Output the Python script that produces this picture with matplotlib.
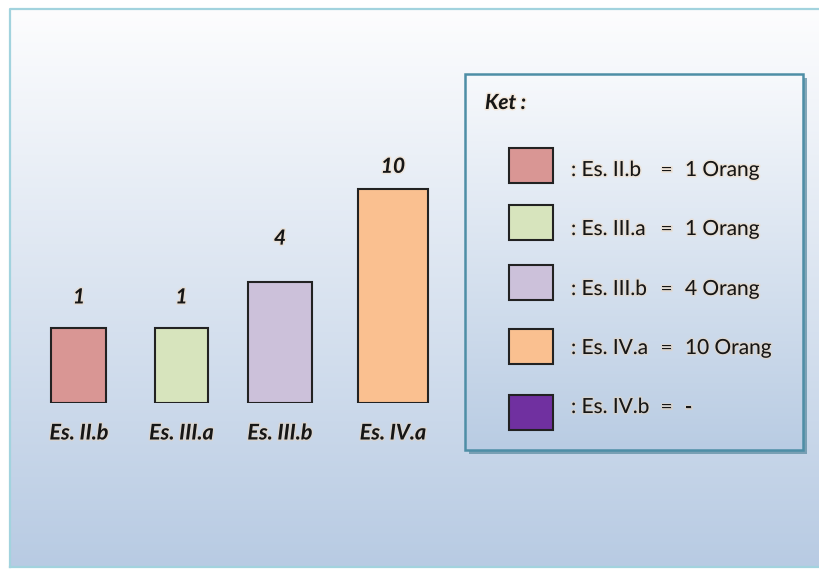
import numpy as np
import matplotlib
matplotlib.use("Agg")
import matplotlib.pyplot as plt
from matplotlib.patches import Rectangle
import matplotlib.patheffects as pe

# ---------------- data ----------------
categories = ["Es. II.b", "Es. III.a", "Es. III.b", "Es. IV.a"]
values = [1, 1, 4, 10]
legend_categories = ["Es. II.b", "Es. III.a", "Es. III.b", "Es. IV.a", "Es. IV.b"]
legend_counts = ["1 Orang", "1 Orang", "4 Orang", "10 Orang", "-"]
legend_title = "Ket :"

# ---------------- styles / layout ----------------
bar_colors = ["#d99694", "#d7e4bd", "#ccc1da", "#fac090"]
legend_colors = ["#d99694", "#d7e4bd", "#ccc1da", "#fac090", "#7030a0"]
bar_centers = [79, 181.5, 280, 393]      # pixel layout positions
bar_widths = [55, 53, 64, 70]
label_offsets = [22, 22, 31, 16]         # points above bar top
W, H = 820, 569
base_px = 403                             # bar bottom (pixel from top)
top_px = 9
px_per_unit = 15.44
base_val = -3.86

FONT = ["Lato", "DejaVu Sans"]
txt_col = "#161616"
glow = [pe.withStroke(linewidth=2.2, foreground="#f6d2a8", alpha=0.35)]

fig = plt.figure(figsize=(W / 100, H / 100), dpi=100)
fig.patch.set_facecolor("white")

# background / overlay axes in pixel coords
bg = fig.add_axes([0, 0, 1, 1])
bg.set_xlim(0, W)
bg.set_ylim(H, 0)
bg.axis("off")

def vgrad(ax, x0, x1, y0, y1, c_top, c_bot, z):
    t = np.linspace(0, 1, 256)[:, None]
    ct = np.array(matplotlib.colors.to_rgb(c_top))
    cb = np.array(matplotlib.colors.to_rgb(c_bot))
    img = (ct[None, None, :] * (1 - t[..., None]) + cb[None, None, :] * t[..., None])
    img = np.repeat(img, 2, axis=1)
    ax.imshow(img, extent=[x0, x1, y1, y0], aspect="auto", zorder=z,
              interpolation="bilinear")

# panel gradient
vgrad(bg, 10, W + 2, top_px, 567, "#fdfdfe", "#b8cbe3", 0)
bg.plot([10, 10, W + 2], [567, top_px, top_px], color="#a2d3de", lw=1.6, zorder=1)
bg.plot([10, W + 2], [567, 567], color="#a2d3de", lw=1.6, zorder=1)
bg.set_xlim(0, W)
bg.set_ylim(H, 0)

# legend box
lx0, lx1, ly0, ly1 = 465, 803, 74, 450
bg.add_patch(Rectangle((lx0 + 4, ly0 + 4), lx1 - lx0, ly1 - ly0,
                       facecolor="#5f8ea3", edgecolor="none", alpha=0.75, zorder=2))
vgrad(bg, lx0, lx1, ly0, ly1, "#f7f9fc", "#b9cce3", 3)
bg.add_patch(Rectangle((lx0, ly0), lx1 - lx0, ly1 - ly0,
                       facecolor="none", edgecolor="#4e8ea6", lw=1.8, zorder=4))
bg.set_xlim(0, W)
bg.set_ylim(H, 0)

bg.text(485, 103, legend_title, fontsize=15, fontweight="bold", style="italic",
        family=FONT, color=txt_col, ha="left", va="center", zorder=5,
        path_effects=glow)

sq_centers = [165, 222.5, 282.5, 346, 412.5]
txt_centers = [170, 229, 289, 348, 407]
for i, (cat, cnt, col) in enumerate(zip(legend_categories, legend_counts, legend_colors)):
    yc = sq_centers[i]
    bg.add_patch(Rectangle((509, yc - 17.5), 44, 35, facecolor=col,
                           edgecolor="#222222", lw=1.5, zorder=5))
    yt = txt_centers[i]
    bg.text(571, yt, ": " + cat, fontsize=15, family=FONT, color=txt_col,
            ha="left", va="center", zorder=5, path_effects=glow)
    bg.text(667, yt, "=", fontsize=15, family=FONT, color=txt_col,
            ha="center", va="center", zorder=5, path_effects=glow)
    bg.text(685, yt, cnt, fontsize=15, family=FONT, color=txt_col,
            ha="left", va="center", zorder=5, path_effects=glow)

# bar axes
ax = fig.add_axes([0, (H - base_px) / H, 1, (base_px - top_px) / H])
ax.patch.set_alpha(0)
ax.set_xlim(0, W)
ax.set_ylim(base_val, base_val + (base_px - top_px) / px_per_unit)
for s in ax.spines.values():
    s.set_visible(False)
ax.set_yticks([])

bars = ax.bar(bar_centers, np.array(values) - base_val, width=bar_widths,
              bottom=base_val, color=bar_colors, edgecolor="#222222", linewidth=1.5)

for x, v, off in zip(bar_centers, values, label_offsets):
    ax.annotate(str(v), xy=(x, v), xytext=(0, off), textcoords="offset points",
                ha="center", va="center", fontsize=15, fontweight="bold",
                style="italic", family=FONT, color=txt_col, path_effects=glow)

ax.set_xticks(bar_centers)
ax.set_xticklabels(categories, fontsize=15.5, fontweight="bold", style="italic",
                   family=FONT, color=txt_col)
for t in ax.get_xticklabels():
    t.set_path_effects(glow)
ax.tick_params(axis="x", length=0, pad=14)

fig.savefig("out.png", dpi=100)
